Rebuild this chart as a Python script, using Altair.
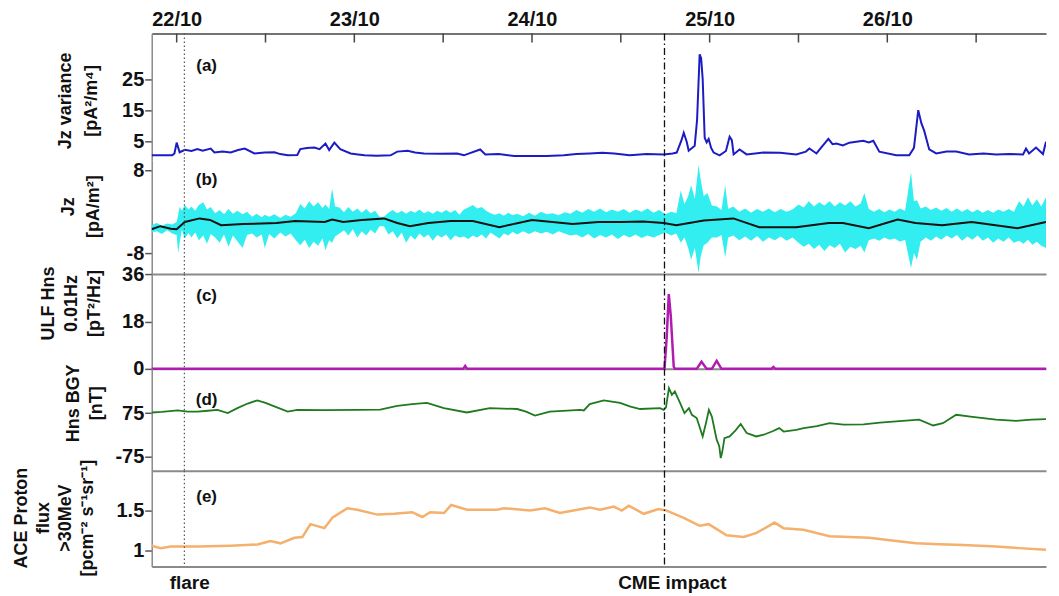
import altair as alt
import pandas as pd

# ---- time axis (hours since 21/10 00:00) ----
X_DOMAIN = [20.63, 141.44]
FLARE_H = 25.04
CME_H = 89.9
tick_hours = [24, 36, 48, 60, 72, 84, 96, 108, 120, 132]
day_hours = [24, 48, 72, 96, 120]
day_labels = ["22/10", "23/10", "24/10", "25/10", "26/10"]
event_label_hours = [25.7, 90.9]
event_labels = ["flare", "CME impact"]

# ---- (a) Jz variance ----
a_hours = [20.6, 23.4, 23.7, 24.0, 24.4, 25.1, 26.0, 26.8, 27.5, 28.6, 29.1, 30.2, 31.3, 32.3, 33.2,
           34.5, 35.9, 37.2, 38.0, 39.0, 40.3, 40.7, 41.6, 42.6, 43.3, 44.1, 44.6, 45.3, 46.1, 47.5,
           48.5, 49.4, 51.0, 52.9, 53.8, 55.2, 56.2, 57.4, 59.5, 61.9, 62.8, 65.0, 65.7, 67.5, 69.6,
           72.0, 74.0, 76.3, 78.0, 79.8, 81.5, 83.1, 85.2, 87.5, 89.8, 91.0, 91.55, 92.2, 92.5, 92.9,
           93.17, 93.98, 94.3, 94.65, 94.85, 95.06, 95.33, 95.6, 95.87, 96.2, 96.54, 97.35, 98.2, 98.7,
           99.0, 99.24, 100.04, 100.99, 103.3, 105.5, 107.7, 109.0, 109.48, 110.43, 111.2, 112.04,
           112.6, 113.12, 114.0, 114.88, 115.8, 116.76, 117.5, 118.11, 118.92, 121.21, 122.97, 123.6,
           124.18, 124.6, 124.99, 125.66, 126.61, 128.0, 129.3, 131.06, 133.0, 134.7, 136.5, 138.34,
           138.74, 139.15, 140.09, 141.03, 141.44]
a_values = [0.6, 0.6, 1.2, 4.7, 1.6, 2.4, 2.0, 2.6, 2.1, 2.8, 1.5, 1.8, 1.5, 2.3, 2.8,
            1.2, 1.5, 1.6, 1.0, 0.6, 0.7, 2.6, 3.0, 3.1, 2.6, 4.4, 2.3, 4.7, 2.6, 1.2,
            0.9, 0.6, 0.5, 0.6, 1.8, 2.1, 1.5, 1.2, 1.1, 1.2, 0.6, 2.5, 0.9, 1.0, 0.4,
            0.4, 0.4, 0.6, 1.0, 1.2, 1.4, 1.2, 0.6, 1.0, 0.9, 1.2, 1.5, 5.5, 7.9, 5.0,
            2.1, 3.7, 12.0, 33.3, 32.0, 25.3, 6.3, 4.8, 5.9, 3.0, 1.5, 0.6, 2.0, 6.6,
            5.5, 0.9, 2.5, 0.9, 1.5, 1.4, 0.9, 1.8, 2.8, 1.2, 3.5, 5.9,
            4.2, 4.4, 3.8, 4.7, 5.0, 5.3, 4.8, 5.3, 1.8, 0.6, 0.6, 3.0,
            15.2, 11.0, 8.5, 2.5, 1.2, 1.8, 1.8, 0.9, 1.2, 0.9, 1.0, 0.9,
            2.8, 1.2, 3.1, 1.0, 5.0]

# ---- (b) Jz: raw envelope (cyan) and smoothed (black) ----
b_hours = [20.6, 21.3, 22.0, 22.7, 23.4, 24.0, 24.2, 24.4, 24.7, 25.1, 25.6, 26.0, 26.5, 27.0, 27.6,
           28.1, 28.6, 29.2, 29.8, 30.4, 31.0, 31.6, 32.2, 32.9, 33.5, 34.2, 34.8, 35.5, 35.9, 36.5,
           37.2, 38.0, 38.7, 39.4, 40.1, 40.7, 41.3, 41.9, 42.5, 43.1, 43.7, 44.1, 44.6, 45.0, 45.4,
           46.0, 46.6, 47.2, 47.8, 48.4, 49.0, 49.6, 50.2, 50.8, 51.4, 52.0, 52.6, 53.2, 53.8, 54.4,
           55.0, 55.6, 56.2, 56.8, 57.4, 58.0, 58.6, 59.2, 59.8, 60.4, 61.0, 61.6, 62.2, 62.8, 63.4,
           64.0, 64.6, 65.2, 65.8, 66.4, 67.0, 67.6, 68.2, 68.8, 69.4, 70.0, 70.8, 71.6, 72.4, 73.2,
           74.0, 74.8, 75.6, 76.4, 77.2, 78.0, 78.8, 79.6, 80.4, 81.2, 82.0, 82.8, 83.6, 84.4, 85.2,
           86.0, 86.8, 87.6, 88.4, 89.2, 90.0, 90.8, 91.5, 92.1, 92.6, 93.1, 93.5, 94.0, 94.5, 94.8,
           95.2, 95.7, 96.3, 97.0, 97.6, 98.1, 98.5, 99.2, 100.0, 100.8, 101.6, 102.4, 103.2, 104.0,
           104.8, 105.6, 106.4, 107.2, 108.0, 108.7, 109.4, 110.1, 110.8, 111.5, 112.2, 112.9, 113.6,
           114.3, 115.0, 115.7, 116.4, 116.9, 117.5, 118.2, 118.9, 119.6, 120.3, 121.0, 121.7, 122.4,
           123.2, 123.6, 124.0, 124.5, 125.2, 125.9, 126.6, 127.3, 128.0, 128.7, 129.4, 130.1, 130.8,
           131.5, 132.2, 132.9, 133.6, 134.3, 135.0, 135.7, 136.4, 137.1, 137.8, 138.4, 139.0, 139.6,
           140.2, 140.8, 141.44]
b_hi = [-2.6, -2.2, -2.7, -2.3, -2.5, -2.0, -0.6, 0.9, 0.2, 1.3, 0.4, 1.0, 0.2, 1.3, 1.8,
        0.4, 0.9, -0.3, 0.3, -0.5, 0.5, -0.4, 0.2, -0.5, 0.0, -1.0, -0.4, -1.1, -0.6, -1.0,
        -0.5, -1.2, -0.6, -1.0, -0.3, 1.5, 0.6, 2.0, 1.0, 1.8, 0.7, 1.4, 0.5, 4.5, 1.0,
        0.8, -0.1, 0.9, 0.0, 0.6, -0.2, 0.5, -0.3, 0.2, -1.0, -1.0, -0.2, 0.3, -0.3, 0.2,
        -0.4, 0.2, -0.2, 0.4, -0.3, 0.1, -0.4, 0.2, -0.2, 0.3, -0.2, 0.3, -0.6, 0.4, 0.8,
        1.3, 0.6, 0.9, 0.2, -0.3, -0.6, -0.3, -0.8, -0.2, -0.7, -0.4, -0.9, -0.2, -0.8, 0.0,
        -0.5, -0.3, -0.7, -0.1, -0.4, 0.3, -0.2, 0.5, 0.0, 0.6, -0.1, 0.4, 0.0, 0.5, -0.2,
        0.4, 0.0, 0.6, -0.2, 0.3, -0.5, 0.0, -0.3, 4.1, 1.5, 3.0, 5.1, 2.5, 9.0, 6.1,
        3.0, 3.6, 1.2, 1.0, 0.3, 5.1, 0.5, 1.0, 0.0, 0.6, -0.2, 0.5, 0.0, 0.6,
        -0.1, 0.5, 0.0, 0.4, 1.4, 0.8, 2.0, 1.0, 1.8, 1.2, 2.0, 1.0, 1.8,
        1.2, 2.0, 1.0, 1.6, 3.6, 0.5, 0.0, 0.5, -0.1, 0.4, 0.0, 0.6, 0.2,
        7.6, 2.0, 2.2, 0.6, 1.0, 0.3, 0.8, 0.2, 0.7, 0.0, 0.6, 0.0, 0.5,
        -0.1, 0.4, -0.2, 0.3, -0.2, 0.4, 0.0, 0.5, 0.0, 2.0, 1.0, 2.8, 1.2,
        2.4, 1.0, 2.8]
b_lo = [-4.0, -3.8, -4.3, -3.6, -4.2, -4.5, -8.0, -6.0, -3.5, -5.2, -4.1, -5.0, -4.0, -5.5, -4.6,
        -6.2, -4.3, -5.0, -6.0, -4.4, -6.8, -4.6, -5.7, -7.0, -4.5, -4.2, -5.0, -4.4, -7.0, -4.3,
        -5.2, -4.0, -4.8, -4.2, -5.5, -6.5, -5.4, -7.0, -5.8, -6.6, -5.2, -7.4, -5.5, -6.0, -4.8,
        -4.2, -3.6, -4.6, -3.4, -5.0, -3.8, -4.6, -3.5, -4.2, -2.8, -2.8, -4.4, -3.8, -5.2, -4.0,
        -6.0, -4.6, -5.4, -4.2, -5.0, -4.4, -5.6, -4.5, -5.0, -4.4, -5.5, -4.6, -5.0, -4.8, -5.3,
        -4.6, -5.0, -4.4, -5.2, -4.0, -4.6, -5.2, -4.2, -4.6, -3.9, -4.4, -3.8, -4.3, -3.8, -4.2,
        -3.9, -4.4, -3.8, -4.2, -4.6, -4.4, -5.0, -4.3, -5.2, -4.5, -5.0, -4.4, -5.3, -4.5, -5.0,
        -4.4, -5.1, -4.6, -5.0, -4.5, -4.0, -4.6, -4.2, -6.0, -5.0, -7.0, -9.3, -7.0, -11.8, -8.6,
        -6.5, -6.0, -5.0, -5.0, -4.5, -8.8, -5.0, -4.6, -5.5, -4.8, -5.6, -4.7, -5.8, -5.0,
        -5.5, -4.8, -5.6, -5.0, -6.0, -6.8, -6.2, -7.2, -6.4, -7.6, -6.5, -7.0, -6.2,
        -7.9, -6.8, -7.2, -6.6, -7.9, -5.5, -5.2, -5.6, -5.0, -5.4, -5.2, -5.8, -5.4,
        -10.9, -8.0, -9.3, -5.8, -5.0, -5.6, -4.8, -5.4, -4.6, -5.2, -4.5, -5.6, -4.8,
        -5.4, -4.6, -5.6, -5.0, -6.0, -5.2, -5.8, -5.0, -6.0, -5.6, -6.2, -5.4, -6.4,
        -5.8, -6.6, -7.0]
bs_hours = [20.6, 21.8, 23.2, 24.0, 25.1, 27.1, 28.5, 30.0, 33.0, 37.5, 40.0, 44.0, 45.0, 46.5,
            49.0, 52.0, 53.8, 55.5, 58.0, 61.0, 64.0, 67.6, 72.0, 77.5, 81.0, 84.0, 87.0, 89.8,
            91.5, 95.2, 99.2, 102.7, 107.7, 112.1, 114.0, 117.5, 121.4, 123.8, 127.4, 131.4,
            137.6, 141.44]
bs_values = [-3.4, -2.8, -3.3, -3.4, -2.0, -1.3, -1.6, -2.6, -2.4, -2.2, -1.8, -2.0, -1.5, -2.0,
             -1.6, -1.3, -2.2, -2.8, -2.2, -1.8, -1.8, -3.0, -1.6, -2.4, -2.0, -2.0, -1.9, -2.2,
             -2.6, -1.7, -1.3, -3.0, -3.0, -2.2, -2.2, -3.2, -1.5, -2.2, -2.6, -2.0,
             -3.2, -2.0]

# ---- (c) ULF Hns 0.01 Hz ----
c_hours = [20.63, 62.7, 62.97, 63.24, 89.9, 90.2, 90.48, 90.75, 91.15, 91.3, 94.25, 94.9, 95.6,
           96.3, 96.95, 97.6, 104.35, 104.6, 104.9, 141.44]
c_values = [0, 0, 1.1, 0, 0, 12, 28.4, 20, 0.8, 0, 0, 2.7, 0, 0, 3.0, 0, 0, 0.7, 0, 0]

# ---- (d) Hns BGY ----
d_hours = [20.63, 22.0, 24.13, 25.5, 26.83, 28.2, 29.5, 30.9, 32.2, 33.6, 34.9, 36.0, 37.2, 39.0,
           40.3, 44.0, 48.4, 51.5, 53.8, 55.8, 57.8, 60.1, 63.2, 66.3, 70.0, 71.2, 72.4, 74.4,
           78.5, 79.0, 79.8, 81.7, 83.9, 85.2, 86.6, 89.3, 89.8, 90.1, 90.5, 90.9, 91.3, 92.0,
           92.6, 93.2, 93.6, 94.25, 95.06, 95.5, 95.9, 96.3, 96.95, 97.3, 97.5, 97.7, 98.0, 98.7,
           99.5, 100.2, 101.0, 102.3, 103.3, 104.5, 105.4, 106.0, 107.7, 108.7, 110.5, 112.2,
           114.1, 116.8, 119.0, 121.2, 124.3, 126.2, 127.5, 129.3, 131.5, 134.7, 137.4, 139.5,
           141.44]
d_values = [77, 79, 84, 80, 80, 83, 86, 75, 92, 108, 119, 110, 98, 80,
            86, 85, 86, 87, 100, 106, 110, 92, 77, 92, 89, 80, 66, 80,
            86, 84, 106, 119, 110, 98, 89, 92, 86, 95, 161, 138, 150, 110,
            75, 92, 69, 58, -6, 40, 86, 63, -17, -40, -81, -60, -12, -6,
            15, 37, 6, -6, 0, 12, 23, 11, 17, 23, 30, 40,
            35, 36, 42, 46, 52, 32, 40, 69, 62, 52, 48, 52,
            54]

# ---- (e) ACE proton flux > 30 MeV ----
e_hours = [20.63, 21.84, 23.19, 27.0, 31.28, 34.92, 36.67, 38.02, 39.91, 40.99, 42.07, 43.96,
           45.03, 47.06, 48.4, 51.1, 53.39, 55.82, 57.17, 58.25, 60.13, 61.08, 63.24, 67.28,
           68.22, 71.73, 73.75, 75.77, 79.82, 81.17, 83.06, 84.13, 85.08, 87.1, 89.1, 90.2,
           92.5, 94.65, 95.87, 98.29, 100.59, 102.34, 104.77, 105.98, 108.68, 112.18, 117.57,
           121.21, 123.91, 127.01, 130.25, 134.7, 137.8, 141.44]
e_values = [1.06, 1.03, 1.05, 1.05, 1.06, 1.075, 1.12, 1.09, 1.16, 1.17, 1.33, 1.28,
            1.41, 1.53, 1.51, 1.45, 1.46, 1.48, 1.42, 1.48, 1.47, 1.57, 1.51, 1.51,
            1.53, 1.50, 1.53, 1.47, 1.54, 1.51, 1.55, 1.50, 1.56, 1.46, 1.52, 1.50,
            1.41, 1.31, 1.33, 1.19, 1.17, 1.22, 1.35, 1.28, 1.26, 1.18, 1.16,
            1.12, 1.09, 1.08, 1.07, 1.05, 1.03, 1.01]

panel_letters = ["(a)", "(b)", "(c)", "(d)", "(e)"]
panel_letter_hour = 28.05
panel_letter_values = [29.4, 6.1, 27.7, 121, 1.675]

FONT = "Liberation Sans"
GRAY = "#8a8a8a"
PLOT_W = 896

events_df = pd.DataFrame({"h": [FLARE_H, CME_H], "kind": ["flare", "cme"]})


def x_enc(kind):
    scale = alt.Scale(domain=X_DOMAIN, nice=False, zero=False)
    common = dict(labelFont=FONT, labelFontWeight="bold", labelColor="#111111",
                  labelFlush=False, grid=False, title=None, ticks=False)
    if kind == "top":
        expr = " : ".join(
            f"datum.value == {h} ? '{l}'" for h, l in zip(day_hours, day_labels)) + " : ''"
        axis = alt.Axis(orient="top", values=day_hours, labelExpr=expr, labelFontSize=20,
                        domainColor="#444444", domainWidth=1.5, labelPadding=4, **common)
    elif kind == "bottom_labels":
        expr = " : ".join(
            f"datum.value == {h} ? '{l}'" for h, l in zip(event_label_hours, event_labels)) + " : ''"
        axis = alt.Axis(orient="bottom", values=event_label_hours, labelExpr=expr,
                        labelFontSize=19, domainColor=GRAY, domainWidth=2, labelPadding=7,
                        **common)
    else:
        axis = alt.Axis(orient="bottom", labels=False, grid=False, title=None, ticks=False,
                        domainColor=GRAY, domainWidth=2)
    return alt.X("h:Q", scale=scale, axis=axis)


def y_enc(domain, values, title, title_x, title_y, line_h):
    return alt.Y("v:Q", scale=alt.Scale(domain=domain, nice=False, zero=False),
                 axis=alt.Axis(values=values, labelExpr="'' + datum.value", title=title,
                               titleX=title_x, titleY=title_y, titleAngle=-90,
                               titleAlign="center", titleBaseline="bottom",
                               titleFont=FONT, titleFontWeight="bold", titleFontSize=18,
                               titleColor="#111111", titleLineHeight=line_h,
                               labelFont=FONT, labelFontWeight="bold", labelColor="#111111",
                               labelFontSize=20, grid=False, domainColor=GRAY,
                               domainWidth=1.5, tickColor="#555555", tickSize=7, tickWidth=1.5,
                               labelPadding=1, labelFlush=False))


def panel(i, df, mark_fn, ydom, yvals, title, tx, ty, line_h, height, xkind, extra=None):
    X = x_enc(xkind)
    Y = y_enc(ydom, yvals, title, tx, ty, line_h)
    layers = []
    if extra is not None:
        layers.append(extra(X, Y))
    layers.append(mark_fn(alt.Chart(df)).encode(x=X, y=Y))
    flare = alt.Chart(events_df[events_df.kind == "flare"]).mark_rule(
        color="#555555", strokeDash=[1.5, 2.5], strokeWidth=1.2).encode(x=X)
    cme = alt.Chart(events_df[events_df.kind == "cme"]).mark_rule(
        color="#111111", strokeDash=[7, 3, 1.5, 3], strokeWidth=1.3).encode(x=X)
    lab = alt.Chart(pd.DataFrame({"h": [panel_letter_hour], "v": [panel_letter_values[i]],
                                  "t": [panel_letters[i]]})).mark_text(
        font=FONT, fontWeight="bold", fontSize=17, align="center", baseline="middle",
        color="#111111").encode(x=X, y=Y, text="t:N")
    layers += [flare, cme, lab]
    if xkind == "top":
        ticks = alt.Chart(pd.DataFrame({"h": tick_hours})).mark_rule(
            color="#444444", strokeWidth=1.5).encode(x=X, y=alt.value(0), y2=alt.value(9))
        layers.append(ticks)
    return alt.layer(*layers).properties(width=PLOT_W, height=height)


df_a = pd.DataFrame({"h": a_hours, "v": a_values})
df_b_env = pd.DataFrame({"h": b_hours, "v": b_lo, "hi": b_hi})
df_b_s = pd.DataFrame({"h": bs_hours, "v": bs_values})
df_c = pd.DataFrame({"h": c_hours, "v": c_values})
df_d = pd.DataFrame({"h": d_hours, "v": d_values})
df_e = pd.DataFrame({"h": e_hours, "v": e_values})

pa = panel(0, df_a, lambda c: c.mark_line(color="#1c1cc4", strokeWidth=2, clip=True),
           [-1, 40], [5, 15, 25], ["Jz variance", "[pA²/m⁴]"], -77, 67, 26, 127, "top")

pb = panel(1, df_b_s, lambda c: c.mark_line(color="#111111", strokeWidth=2, clip=True),
           [-12.05, 9.93], [8, -8], ["Jz", "[pA/m²]"], -74, 46, 25, 114, "bottom",
           extra=lambda X, Y: alt.Chart(df_b_env).mark_area(
               color="#33eef0", opacity=1, clip=True).encode(x=X, y=Y, y2="hi:Q"))

pc = panel(2, df_c, lambda c: c.mark_line(color="#b01cb0", strokeWidth=2.5, clip=False),
           [0, 36], [0, 18, 36], ["ULF Hns", "0.01Hz", "[pT²/Hz]"], -94, 29, 23, 95, "bottom")
pd_ = panel(3, df_d, lambda c: c.mark_line(color="#1f7a1f", strokeWidth=1.8, clip=True),
            [-124.5, 228], [75, -75], ["Hns BGY", "[nT]"], -69, 34, 23, 102, "bottom")
pe = panel(4, df_e, lambda c: c.mark_line(color="#f4b06c", strokeWidth=2.5, clip=True),
           [0.8, 2.0], [1, 1.5], ["ACE Proton", "flux", ">30MeV", "[pcm⁻² s⁻¹sr⁻¹]"],
           -121, 47, 22, 96, "bottom_labels")

chart = alt.VConcatChart(
    vconcat=[pa, pb, pc, pd_, pe], spacing=0, bounds="flush",
    padding={"left": 5, "top": 1, "right": 0, "bottom": 0},
    background="white",
).configure_view(stroke=None)

chart.save("out.html", embed_options={"renderer": "svg", "actions": False})
